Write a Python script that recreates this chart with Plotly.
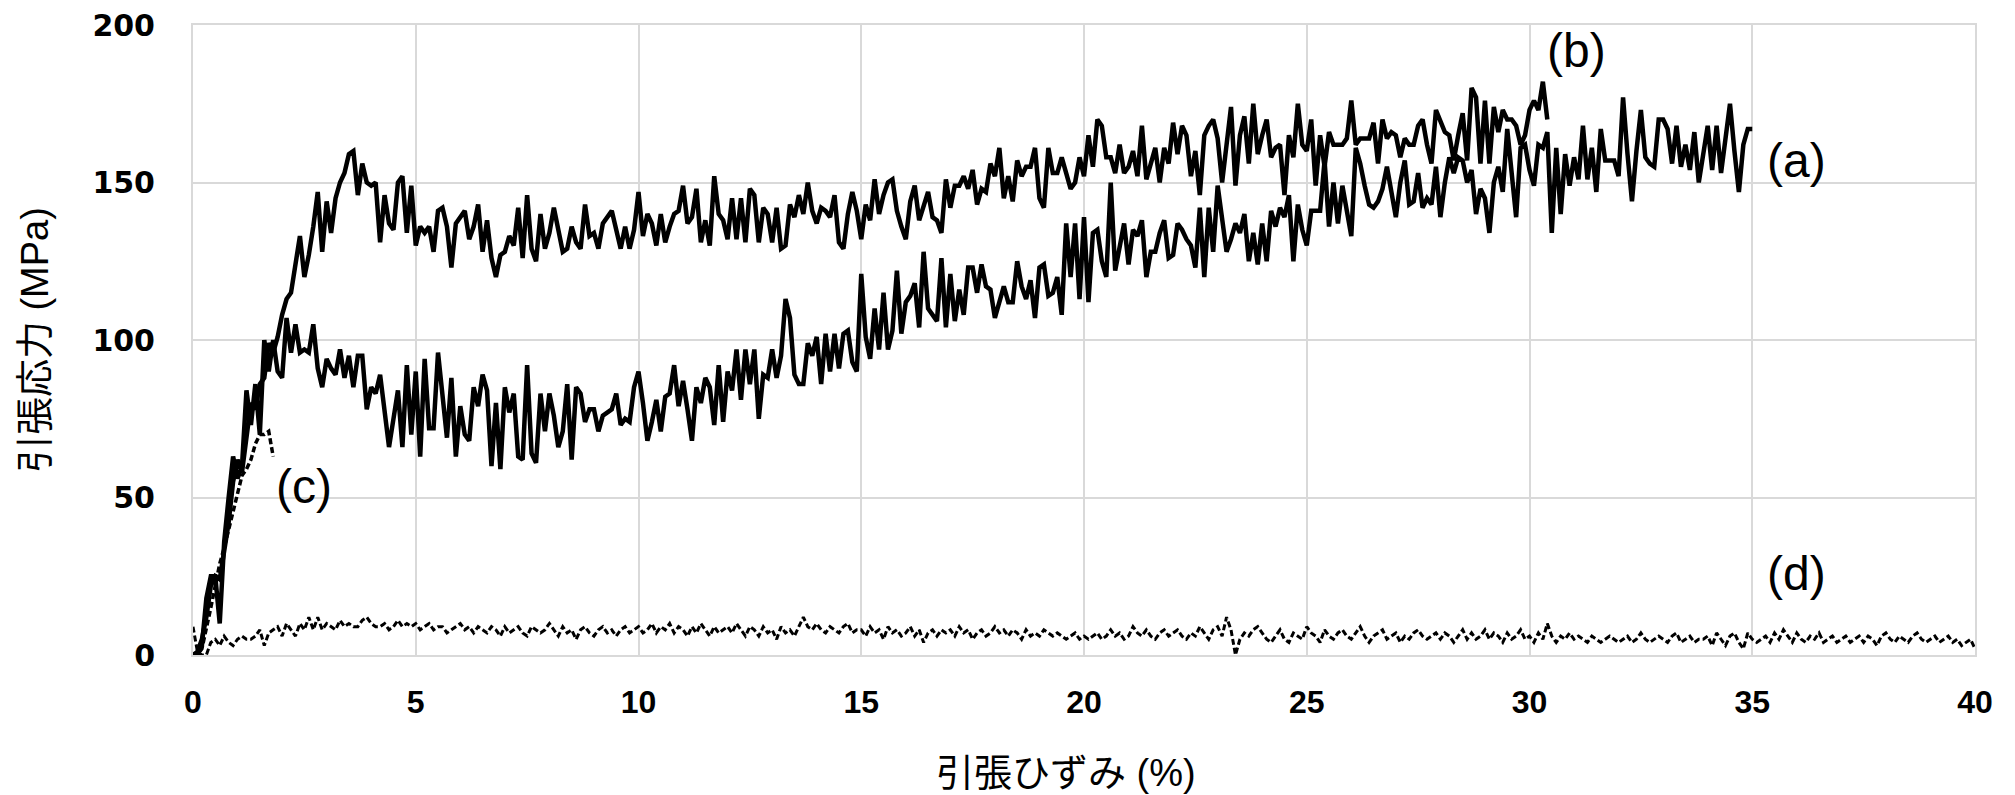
import plotly.graph_objects as go

STEP = 0.1  # strain sampling interval (%)

# (b) upper solid curve, 0.0 .. 30.4 %
stress_b = [
    0, 1, 5, 12, 22, 25, 24, 33, 42, 55,
    62, 58, 70, 80, 78, 86, 88, 99, 96, 101,
    108, 113, 115, 124, 133, 120, 127, 136, 147, 128,
    144, 134, 145, 150, 153, 159, 160, 146, 156, 150,
    149, 150, 131, 146, 137, 135, 150, 152, 134, 149,
    130, 136, 134, 136, 128, 141, 142, 136, 123, 137,
    139, 141, 132, 136, 143, 128, 138, 126, 120, 127,
    128, 133, 130, 142, 126, 146, 129, 125, 140, 129,
    134, 142, 135, 128, 129, 136, 131, 129, 143, 133,
    134, 129, 137, 139, 141, 135, 129, 136, 129, 135,
    147, 133, 140, 137, 130, 140, 131, 136, 140, 141,
    149, 137, 139, 148, 131, 138, 130, 152, 140, 138,
    132, 145, 132, 145, 131, 148, 146, 131, 142, 140,
    131, 142, 129, 130, 143, 139, 146, 140, 150, 141,
    137, 142, 141, 139, 146, 131, 129, 140, 147, 141,
    132, 143, 138, 151, 140, 146, 150, 151, 141, 136,
    132, 144, 149, 138, 142, 147, 139, 138, 134, 151,
    142, 149, 149, 152, 148, 154, 143, 148, 147, 156,
    152, 161, 145, 152, 144, 157, 152, 155, 155, 161,
    145, 142, 161, 153, 153, 158, 153, 148, 150, 158,
    152, 165, 155, 170, 168, 158, 158, 153, 162, 153,
    155, 160, 152, 168, 151, 156, 161, 150, 161, 156,
    169, 159, 168, 165, 152, 160, 146, 165, 168, 170,
    164, 150, 162, 174, 149, 165, 171, 156, 175, 159,
    165, 170, 158, 161, 162, 146, 165, 158, 175, 162,
    160, 170, 149, 165, 155, 166, 162, 162, 162, 164,
    176, 162, 164, 164, 164, 169, 156, 170, 164, 166,
    165, 158, 164, 162, 162, 168, 170, 162, 156, 173,
    169, 166, 165, 157, 165, 172, 157, 180, 177, 156,
    176, 156, 174, 166, 173, 170, 170, 168, 162, 165,
    173, 176, 173, 182, 170,
]

# (a) lower solid curve, 0.0 .. 35.0 %
stress_a = [
    0, 0, 3, 18, 25, 25, 10, 36, 50, 63,
    56, 60, 84, 73, 86, 70, 100, 90, 100, 90,
    88, 107, 96, 105, 96, 97, 96, 105, 91, 85,
    94, 91, 89, 97, 88, 95, 85, 95, 95, 78,
    85, 83, 89, 77, 66, 75, 84, 66, 92, 70,
    90, 63, 94, 72, 72, 96, 83, 69, 88, 63,
    79, 70, 68, 85, 79, 89, 84, 60, 80, 59,
    85, 77, 83, 63, 62, 92, 64, 61, 83, 71,
    83, 76, 66, 71, 86, 62, 85, 83, 74, 78,
    78, 71, 76, 77, 78, 83, 73, 75, 74, 85,
    90, 80, 68, 74, 81, 71, 82, 83, 92, 79,
    87, 78, 68, 85, 80, 88, 85, 73, 92, 74,
    90, 84, 97, 81, 97, 86, 97, 75, 89, 88,
    97, 88, 95, 113, 107, 89, 86, 86, 99, 95,
    101, 86, 102, 90, 102, 91, 102, 103, 93, 90,
    121, 101, 94, 110, 97, 115, 97, 103, 122, 102,
    112, 114, 118, 104, 128, 110, 108, 106, 126, 104,
    121, 106, 116, 108, 123, 123, 115, 124, 117, 116,
    107, 112, 117, 112, 112, 125, 117, 113, 119, 107,
    123, 124, 114, 115, 120, 108, 137, 120, 137, 113,
    139, 112, 134, 135, 125, 120, 150, 122, 130, 137,
    124, 135, 133, 138, 120, 128, 128, 134, 138, 126,
    127, 137, 135, 132, 130, 123, 142, 120, 142, 128,
    149, 138, 128, 132, 137, 134, 140, 125, 134, 124,
    137, 125, 141, 136, 142, 139, 146, 125, 143, 135,
    130, 141, 141, 141, 157, 136, 150, 137, 149, 140,
    133, 161, 156, 149, 143, 142, 144, 148, 155, 147,
    139, 150, 157, 143, 144, 153, 142, 145, 143, 155,
    139, 150, 158, 153, 158, 157, 150, 154, 140, 148,
    145, 134, 150, 155, 147, 167, 151, 139, 161, 162,
    154, 149, 162, 161, 166, 134, 161, 140, 159, 149,
    158, 151, 168, 151, 161, 147, 167, 157, 157, 157,
    152, 177, 159, 144, 160, 173, 158, 156, 155, 170,
    170, 167, 156, 168, 155, 162, 154, 166, 150, 160,
    168, 154, 168, 153, 163, 175, 160, 147, 162, 167,
    167,
]

# (c) dashed curve, 0.0 .. 1.8 %
stress_c = [0, 0, 2, 8, 15, 22, 29, 34, 40, 46, 52, 57, 59, 62, 67, 70, 70, 71, 63]

# (d) dashed curve near zero, 0.0 .. 40.0 %
stress_d = [
    9, 1, 0, 0, 4, 5, 3, 6, 4, 3,
    5, 6, 5, 5, 6, 8, 3, 7, 8, 9,
    6, 10, 8, 6, 10, 8, 12, 8, 12, 8,
    10, 9, 8, 11, 9, 10, 9, 9, 11, 12,
    10, 9, 9, 10, 8, 9, 11, 9, 10, 9,
    10, 8, 9, 10, 8, 9, 9, 7, 8, 9,
    10, 8, 9, 7, 9, 8, 7, 9, 8, 6,
    9, 7, 8, 9, 7, 6, 9, 8, 7, 8,
    10, 8, 6, 9, 7, 8, 5, 8, 9, 7,
    6, 8, 9, 7, 8, 6, 8, 9, 7, 8,
    9, 7, 8, 10, 7, 9, 8, 10, 7, 9,
    8, 6, 9, 7, 10, 8, 6, 9, 7, 8,
    9, 7, 10, 8, 6, 9, 8, 6, 9, 7,
    8, 5, 9, 7, 8, 6, 9, 12, 9, 8,
    10, 8, 7, 9, 8, 7, 9, 10, 7, 8,
    8, 6, 9, 7, 8, 5, 9, 7, 8, 6,
    7, 9, 6, 8, 4, 7, 8, 6, 8, 7,
    8, 6, 9, 7, 8, 5, 7, 8, 6, 7,
    9, 7, 8, 6, 8, 7, 5, 8, 6, 7,
    6, 8, 7, 6, 7, 6, 5, 6, 7, 5,
    6, 5, 6, 7, 5, 6, 8, 6, 7, 5,
    6, 9, 7, 6, 8, 6, 5, 7, 8, 6,
    7, 8, 6, 5, 7, 6, 9, 7, 5, 8,
    9, 6, 12, 8, 0, 5, 7, 6, 8, 9,
    7, 5, 4, 6, 8, 5, 4, 7, 6, 5,
    9, 7, 6, 4, 8, 6, 5, 7, 8, 6,
    5, 7, 9, 6, 4, 6, 7, 8, 5, 6,
    7, 4, 6, 5, 7, 8, 6, 5, 6, 7,
    5, 7, 6, 4, 6, 8, 5, 7, 5, 6,
    8, 5, 7, 6, 4, 7, 5, 6, 8, 5,
    6, 4, 7, 5, 10, 6, 4, 6, 5, 7,
    5, 6, 5, 4, 6, 5, 4, 5, 6, 5,
    4, 5, 6, 4, 5, 7, 5, 4, 5, 6,
    5, 4, 6, 7, 4, 5, 6, 4, 5, 5,
    6, 3, 7, 5, 3, 6, 7, 4, 2, 7,
    5, 4, 5, 6, 4, 7, 5, 8, 6, 4,
    7, 5, 4, 6, 5, 7, 4, 5, 6, 4,
    5, 6, 4, 5, 6, 4, 6, 5, 3, 6,
    7, 5, 4, 6, 5, 4, 6, 7, 5, 4,
    5, 6, 4, 5, 6, 4, 5, 3, 4, 5,
    2,
]

labels = ["(a)", "(b)", "(c)", "(d)"]
label_x = [36.0, 31.05, 2.5, 36.0]
label_y = [157, 192, 53.5, 26]

x_ticks = [0, 5, 10, 15, 20, 25, 30, 35, 40]
y_ticks = [0, 50, 100, 150, 200]

x_title = "引張ひずみ (%)"
y_title = "引張応力 (MPa)"


def strain(values):
    return [round(i * STEP, 2) for i in range(len(values))]


fig = go.Figure()
fig.add_trace(go.Scatter(x=strain(stress_d), y=stress_d, mode="lines",
                         line=dict(color="black", width=3, dash="6px,3px"), name="(d)"))
fig.add_trace(go.Scatter(x=strain(stress_c), y=stress_c, mode="lines",
                         line=dict(color="black", width=3.5, dash="6px,3px"), name="(c)"))
fig.add_trace(go.Scatter(x=strain(stress_a), y=stress_a, mode="lines",
                         line=dict(color="black", width=4.5), name="(a)"))
fig.add_trace(go.Scatter(x=strain(stress_b), y=stress_b, mode="lines",
                         line=dict(color="black", width=4.5), name="(b)"))

for t, xx, yy in zip(labels, label_x, label_y):
    fig.add_annotation(x=xx, y=yy, xref="x", yref="y", text=t, showarrow=False,
                       xanchor="center", yanchor="middle",
                       font=dict(family="Liberation Sans, Arial", size=48, color="black"))

title_font = dict(family="Liberation Sans, Noto Sans CJK JP", size=38, color="black")

# axis titles placed as paper annotations
fig.add_annotation(x=0.490, y=-0.188, xref="paper", yref="paper", text=x_title,
                   showarrow=False, xanchor="center", yanchor="middle", font=title_font)
fig.add_annotation(x=-0.0886, y=0.5, xref="paper", yref="paper", text=y_title,
                   showarrow=False, xanchor="center", yanchor="middle", textangle=-90,
                   font=title_font)

fig.update_layout(
    width=2015, height=795,
    margin=dict(l=185, r=48, t=17, b=148, autoexpand=False),
    paper_bgcolor="white", plot_bgcolor="white",
    showlegend=False,
    xaxis=dict(
        range=[0, 40], tickvals=x_ticks, ticktext=[str(v) for v in x_ticks],
        showgrid=True, gridcolor="#d9d9d9", gridwidth=2,
        showline=True, mirror=True, linecolor="#d9d9d9", linewidth=2,
        zeroline=False, ticks="", ticklabelstandoff=18, ticklabeloverflow="allow",
        tickfont=dict(family="Liberation Sans, Arial", size=32, color="black", weight="bold"),
    ),
    yaxis=dict(
        range=[0, 200], tickvals=y_ticks, ticktext=[str(v) for v in y_ticks],
        showgrid=True, gridcolor="#d9d9d9", gridwidth=2,
        showline=True, mirror=True, linecolor="#d9d9d9", linewidth=2,
        zeroline=False, ticks="", ticklabelstandoff=30, ticklabeloverflow="allow",
        tickfont=dict(family="DejaVu Sans", size=30, color="black", weight="bold"),
    ),
)

fig.write_html("out.html")
